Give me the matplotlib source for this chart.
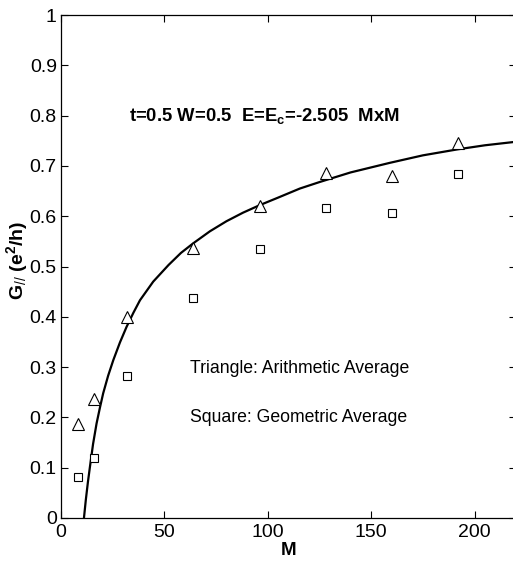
import matplotlib.pyplot as plt

plt.rcParams['font.family'] = ['Liberation Sans', 'DejaVu Sans']
plt.rcParams['mathtext.fontset'] = 'custom'
plt.rcParams['mathtext.rm'] = 'Liberation Sans'
plt.rcParams['mathtext.it'] = 'Liberation Sans:italic:bold'
plt.rcParams['mathtext.bf'] = 'Liberation Sans:bold'

# system sizes
M = [8, 16, 32, 64, 96, 128, 160, 192]
# arithmetic average (triangles)
G_arith = [0.187, 0.237, 0.400, 0.537, 0.620, 0.686, 0.680, 0.746]
# geometric average (squares)
G_geom = [0.081, 0.119, 0.282, 0.437, 0.535, 0.617, 0.607, 0.684]

# fitted curve
fit_M = [11.1, 12.0, 13.0, 14.0, 15.5, 17.2, 18.8, 20.4, 22.8, 25.3, 28.5, 31.7,
         35.0, 38.2, 44.6, 52.0, 58.0, 63.9, 72.0, 80.0, 88.0, 96.1, 105.0,
         115.5, 125.1, 140.0, 158.9, 175.0, 191.9, 205.0, 220.0]
fit_G = [0.000, 0.036, 0.071, 0.102, 0.147, 0.188, 0.219, 0.248, 0.283, 0.314,
         0.349, 0.380, 0.408, 0.433, 0.470, 0.503, 0.527, 0.546, 0.570, 0.590,
         0.607, 0.622, 0.637, 0.655, 0.668, 0.687, 0.706, 0.721, 0.733, 0.741,
         0.748]

fig = plt.figure(figsize=(5.13, 5.61), dpi=100)
ax = fig.add_axes([61/513, 43/561, 455/513, 503/561])

ax.plot(fit_M, fit_G, color='black', lw=1.6)
ax.plot(M, G_arith, linestyle='none', marker='^', ms=8.5, mfc='white',
        mec='black', mew=0.8)
ax.plot(M, G_geom, linestyle='none', marker='s', ms=5.5, mfc='white',
        mec='black', mew=0.8)

ax.set_xlim(0, 220)
ax.set_ylim(0, 1)
ax.set_xticks([0, 50, 100, 150, 200])
ax.set_yticks([0, 0.1, 0.2, 0.3, 0.4, 0.5, 0.6, 0.7, 0.8, 0.9, 1])
ax.set_yticklabels(['0', '0.1', '0.2', '0.3', '0.4', '0.5', '0.6', '0.7',
                    '0.8', '0.9', '1'])
ax.tick_params(direction='in', top=True, right=True, length=5, width=0.8,
               labelsize=14, pad=4)
ax.tick_params(axis='y', pad=3)
for s in ax.spines.values():
    s.set_linewidth(0.9)

ax.set_xlabel('M', fontsize=13.5, fontweight='bold', labelpad=1)
ax.set_ylabel(r'G$_{//}$ (e$^\mathbf{2}$/h)', fontsize=14,
              fontweight='bold')
ax.yaxis.set_label_coords(-0.068, 0.513)

ax.text(32.9, 0.80, r't=0.5 W=0.5  E=E$_\mathbf{c}$=-2.505  MxM',
        fontsize=13.3, fontweight='bold', va='center', ha='left')
ax.text(62.3, 0.298, 'Triangle: Arithmetic Average', fontsize=12.7,
        va='center', ha='left')
ax.text(62.3, 0.199, 'Square: Geometric Average', fontsize=12.7,
        va='center', ha='left')

fig.savefig('out.png', dpi=100)
